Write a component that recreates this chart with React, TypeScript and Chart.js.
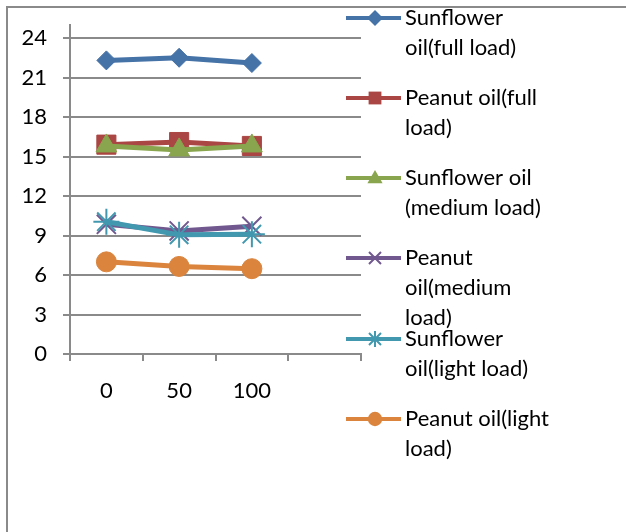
import React, { useEffect, useRef } from "react";
import { Chart, registerables } from "chart.js";
Chart.register(...registerables);

const categories = ["0", "50", "100", ""];
const sunflowerFull = [22.3, 22.5, 22.1];
const peanutFull = [15.9, 16.1, 15.8];
const sunflowerMedium = [15.8, 15.5, 15.8];
const peanutMedium = [9.85, 9.35, 9.7];
const sunflowerLight = [10.05, 9.05, 9.1];
const peanutLight = [7.0, 6.65, 6.48];

const legendLines = [
  ["Sunflower", "oil(full load)"],
  ["Peanut oil(full", "load)"],
  ["Sunflower oil", "(medium load)"],
  ["Peanut", "oil(medium", "load)"],
  ["Sunflower", "oil(light load)"],
  ["Peanut oil(light", "load)"],
];

const FONT = "Lato, 'Open Sans', sans-serif";
const GRID = "#8A8A8A";

export default function App() {
  const ref = useRef<HTMLCanvasElement>(null);
  useEffect(() => {
    const mk = (label: string, data: number[], color: string, style: any, r: number, order: number) => ({
      label,
      data,
      order,
      borderColor: color,
      backgroundColor: color,
      borderWidth: 5,
      pointStyle: style,
      pointRadius: r,
      pointBorderWidth: style === "crossRot" || style === "star" ? 2 : 1,
      pointBorderColor: color,
      pointBackgroundColor: color,
      tension: 0,
    });
    const datasets = [
      mk("Sunflower oil(full load)", sunflowerFull, "#4572A7", "rectRot", 9.5, 6),
      mk("Peanut oil(full load)", peanutFull, "#AA4643", "rect", 13.5, 5),
      mk("Sunflower oil (medium load)", sunflowerMedium, "#89A54E", "triangle", 12, 4),
      mk("Peanut oil(medium load)", peanutMedium, "#71588F", "crossRot", 13.5, 3),
      mk("Sunflower oil(light load)", sunflowerLight, "#4198AF", "star", 13, 2),
      mk("Peanut oil(light load)", peanutLight, "#DB843D", "circle", 10, 1),
    ];
    const legendPlugin = {
      id: "customLegend",
      beforeDraw(chart: any) {
        const ctx = chart.ctx;
        ctx.save();
        ctx.fillStyle = "#ffffff";
        ctx.fillRect(0, 0, chart.width, chart.height);
        ctx.strokeStyle = GRID;
        ctx.lineWidth = 2;
        ctx.strokeRect(7, 7, 800, 800);
        ctx.restore();
      },
      afterDraw(chart: any) {
        const ctx = chart.ctx;
        ctx.save();
        // small extension of the value axis above the top gridline
        const x0 = chart.chartArea.left;
        ctx.strokeStyle = GRID;
        ctx.lineWidth = 2;
        ctx.beginPath();
        ctx.moveTo(x0, chart.chartArea.top - 14);
        ctx.lineTo(x0, chart.chartArea.top);
        ctx.stroke();
        const ys = [18, 98, 178, 258, 339, 419];
        chart.data.datasets.forEach((ds: any, i: number) => {
          const y = ys[i];
          ctx.strokeStyle = ds.borderColor;
          ctx.lineWidth = 4;
          ctx.beginPath();
          ctx.moveTo(346, y);
          ctx.lineTo(401, y);
          ctx.stroke();
          ctx.fillStyle = ds.borderColor;
          ctx.strokeStyle = ds.borderColor;
          ctx.lineWidth = 2;
          drawPt(ctx, ds.pointStyle, 375, y, 8);
          ctx.fillStyle = "#000000";
          ctx.font = `22px ${FONT}`;
          ctx.textBaseline = "middle";
          ctx.textAlign = "left";
          legendLines[i].forEach((t, j) => {
            ctx.fillText(t, 405, y + j * 30);
          });
        });
        ctx.restore();
      },
    };
    const chart = new Chart(ref.current!, {
      type: "line",
      data: { labels: categories, datasets },
      options: {
        animation: false,
        responsive: false,
        layout: { padding: { top: 38, right: 265, left: 0, bottom: 0 } },
        plugins: { legend: { display: false }, tooltip: { enabled: false } },
        scales: {
          x: {
            offset: true,
            grid: { offset: true, drawOnChartArea: false, tickLength: 7, color: GRID, lineWidth: 2 },
            border: { color: GRID, width: 2 },
            ticks: { color: "#000", font: { size: 22, family: FONT }, padding: 17, maxRotation: 0 },
            afterFit: (s: any) => { s.height = 532 - 354; },
          },
          y: {
            min: 0,
            max: 24,
            ticks: { stepSize: 3, color: "#000", font: { size: 22, family: FONT }, padding: 16 },
            grid: { color: GRID, lineWidth: 2, tickLength: 7 },
            border: { color: GRID, width: 2 },
            afterFit: (s: any) => { s.width = 70; },
          },
        },
      },
      plugins: [legendPlugin],
    });
    return () => chart.destroy();
  }, []);
  return (
    <div style={{ position: "fixed", left: 0, top: 0, width: 626, height: 532 }}>
      <canvas ref={ref} width={626} height={532} style={{ width: 626, height: 532 }} />
    </div>
  );
}

function drawPt(ctx: CanvasRenderingContext2D, style: string, x: number, y: number, r: number) {
  ctx.beginPath();
  if (style === "rectRot") {
    ctx.moveTo(x, y - r); ctx.lineTo(x + r, y); ctx.lineTo(x, y + r); ctx.lineTo(x - r, y); ctx.closePath(); ctx.fill();
  } else if (style === "rect") {
    ctx.rect(x - r * 0.8, y - r * 0.8, r * 1.6, r * 1.6); ctx.fill();
  } else if (style === "triangle") {
    ctx.moveTo(x, y - r); ctx.lineTo(x + r * 0.95, y + r * 0.65); ctx.lineTo(x - r * 0.95, y + r * 0.65); ctx.closePath(); ctx.fill();
  } else if (style === "crossRot") {
    const d = r * 0.75;
    ctx.moveTo(x - d, y - d); ctx.lineTo(x + d, y + d); ctx.moveTo(x + d, y - d); ctx.lineTo(x - d, y + d); ctx.stroke();
  } else if (style === "star") {
    const d = r * 0.75;
    ctx.moveTo(x - d, y - d); ctx.lineTo(x + d, y + d); ctx.moveTo(x + d, y - d); ctx.lineTo(x - d, y + d);
    ctx.moveTo(x, y - r); ctx.lineTo(x, y + r); ctx.stroke();
  } else {
    ctx.arc(x, y, r * 0.9, 0, Math.PI * 2); ctx.fill();
  }
}
